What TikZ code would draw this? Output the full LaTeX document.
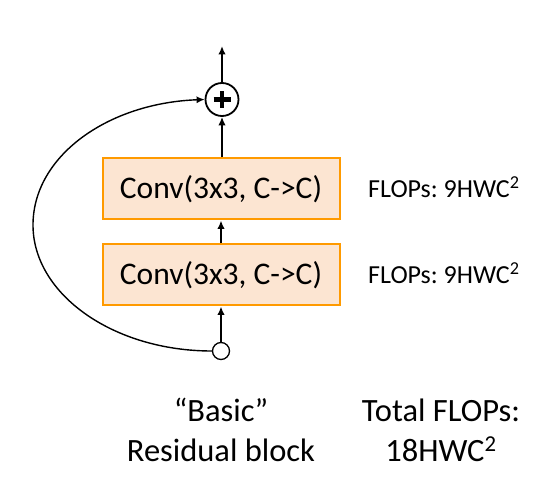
\documentclass[tikz,border=0pt]{standalone}
\usepackage{fontspec}
\setmainfont{Carlito}
\usetikzlibrary{arrows.meta}
\definecolor{boxfill}{HTML}{FCE5D2}
\definecolor{boxline}{HTML}{FF9A00}
\frenchspacing
\tikzset{
  convbox/.style={draw=boxline, fill=boxfill, line width=2pt, minimum width=237pt, minimum height=61pt, inner sep=0pt, font=\fontsize{31.5}{36}\selectfont},
  flow/.style={line width=2pt, -{Latex[length=8.5pt,width=7.5pt]}},
  skip/.style={line width=1.4pt, -{Latex[length=8pt,width=7pt]}},
  flops/.style={anchor=base west, inner sep=0pt, font=\fontsize{26}{31}\selectfont},
  caption/.style={anchor=base, inner sep=0pt, font=\fontsize{32.5}{39}\selectfont},
  addnode/.style={circle, draw, line width=1.8pt, minimum size=33pt, inner sep=0pt, fill=white,
    path picture={\draw[line width=4.5pt] ([xshift=-8.5pt]path picture bounding box.center) -- ([xshift=8.5pt]path picture bounding box.center);
                  \draw[line width=4.5pt] ([yshift=-8.5pt]path picture bounding box.center) -- ([yshift=8.5pt]path picture bounding box.center);}},
  innode/.style={circle, draw, line width=1.3pt, minimum size=17pt, inner sep=0pt, fill=white}
}
\begin{document}
\begin{tikzpicture}[x=1pt,y=-1pt]
\useasboundingbox (0,0) rectangle (539,497);
\node[addnode] (plus) at (222,99.5) {};
\node[convbox] (conv1) at (221,189) {Conv(3x3, C->C)};
\node[convbox] (conv2) at (221,275) {Conv(3x3, C->C)};
\node[innode] (in) at (221,351) {};
\coordinate (out) at (222,46);
\coordinate (far) at (33,225);
\draw[flow] (in.north) -- (conv2.south);
\draw[flow] (conv2.north) -- (conv1.south);
\draw[flow] (conv1.north -| plus) -- (plus.south);
\draw[flow] (plus.north) -- (out);
\draw[skip] (in.west) .. controls (113,351) and (33,294) .. (far)
                      .. controls (33,156) and (108,103) .. (plus.west);
\node[flops] (f1) at (368,197.3) {FLOPs: 9HWC\textsuperscript{2}};
\node[flops] (f2) at (368,283.3) {FLOPs: 9HWC\textsuperscript{2}};
\node[caption] (c1) at (221,421.7) {“Basic”};
\node[caption] (c2) at (221,461) {Residual block};
\node[caption] (t1) at (441,421.7) {Total FLOPs:};
\node[caption] (t2) at (441,461) {18HWC\textsuperscript{2}};
\end{tikzpicture}
\end{document}
